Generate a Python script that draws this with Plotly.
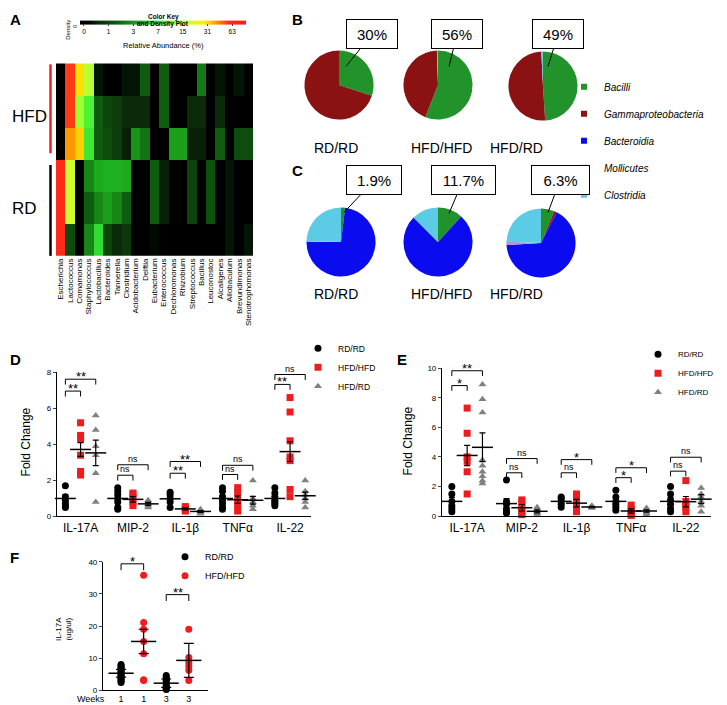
import numpy as np
import plotly.graph_objects as go

W, H = 727, 705
def px(x): return x / W
def py(y): return 1 - y / H

FONT = "Liberation Sans, Arial, sans-serif"

# ---------------- Panel A : heatmap data (relative abundance, %) ----------------
genera = ["Escherichia", "Lactococcus", "Comamonas", "Staphylococcus", "Lactobacillus",
          "Bacteroides", "Tannerella", "Clostridium", "Acidobacterium", "Delftia",
          "Eubacterium", "Enterococcus", "Dechloromonas", "Rhizobium", "Streptococcus",
          "Bacillus", "Leuconostoc", "Alcaligenes", "Allobaculum", "Brevundimonas",
          "Stenotrophomonas"]
samples = ["HFD 1", "HFD 2", "HFD 3", "RD 1", "RD 2", "RD 3"]
ab_HFD1 = [0, 55, 30, 16, 0.3, 0, 0, 0.3, 0.3, 1.5, 0, 1.5, 0, 0, 0, 2.2, 0, 0.3, 0, 0.3, 0]
ab_HFD2 = [0, 55, 14, 9, 1.5, 1.0, 0.8, 0.5, 0.5, 0.5, 0, 1.5, 0, 0, 0.5, 0.5, 0, 0.5, 0, 0, 0]
ab_HFD3 = [0, 40, 32, 8, 1.5, 1.2, 0.8, 0.4, 3.0, 2.0, 0, 0, 3.5, 3.5, 0.4, 0.4, 0, 1.5, 0, 1.2, 1.2]
ab_RD1 = [60, 18, 0, 2.5, 4.0, 4.5, 4.5, 4.0, 0, 0, 1.5, 0.4, 0, 0, 1.0, 0, 1.3, 0, 0.3, 0, 0]
ab_RD2 = [60, 18, 0, 1.5, 2.5, 3.5, 2.5, 1.5, 0, 0, 1.5, 0.4, 0, 0, 1.0, 0, 1.3, 0, 0.3, 0, 0]
ab_RD3 = [60, 1.2, 0, 2.5, 7.0, 1.0, 0.5, 0.7, 0, 0, 0.2, 0, 0, 0, 0, 0, 0, 0, 0.3, 0, 0.3]
key_ticks = [0, 1, 3, 7, 15, 31, 63]

# ---------------- Panels B, C : pies (%) ----------------
pie_groups = ["RD/RD", "HFD/HFD", "HFD/RD"]
classes = ["Bacilli", "Gammaproteobacteria", "Bacteroidia", "Mollicutes", "Clostridia"]
class_colors = ["#22922a", "#8b1212", "#0b0bf0", "#b590d8", "#5ccbe6"]
B_RD = [30, 70, 0, 0, 0]
B_HFD = [56, 43.5, 0, 0, 0.5]
B_HFDRD = [49, 50.2, 0, 0, 0.8]
C_RD = [1.9, 0, 73.1, 0.5, 24.5]
C_HFD = [11.7, 0, 75.8, 0, 12.5]
C_HFDRD = [6.3, 1.2, 66.6, 1.5, 24.4]
B_callout = ["30%", "56%", "49%"]
C_callout = ["1.9%", "11.7%", "6.3%"]

# ---------------- Panel D : fold change ----------------
cyto = ["IL-17A", "MIP-2", "IL-1β", "TNFα", "IL-22"]
D_RD = [[1.7, 1.1, 0.9, 0.7, 0.6, 0.5],
        [1.6, 1.4, 1.2, 1.0, 0.8, 0.5, 0.4],
        [1.35, 1.2, 1.0, 0.8, 0.5],
        [1.6, 1.4, 1.1, 0.9, 0.7, 0.5, 0.4],
        [1.6, 1.3, 1.1, 0.9, 0.8, 0.7, 0.6]]
D_HFD = [[5.2, 4.5, 4.3, 3.4, 2.5, 2.3],
         [1.3, 1.2, 1.0, 0.8, 0.6],
         [0.55, 0.45, 0.4, 0.3],
         [1.6, 1.3, 0.9, 0.6, 0.3],
         [6.6, 5.8, 4.2, 3.3, 3.1, 1.5, 1.1]]
D_HFDRD = [[5.6, 4.8, 3.9, 3.4, 2.4, 0.8],
           [0.9, 0.8, 0.7, 0.6, 0.5],
           [0.4, 0.3, 0.25, 0.2, 0.15],
           [2.0, 1.0, 0.8, 0.6, 0.4],
           [2.0, 1.4, 1.2, 1.0, 0.8, 0.5]]
D_mean = [[1.0, 1.0, 0.98, 1.0, 1.0], [3.72, 0.95, 0.42, 0.93, 3.6], [3.53, 0.7, 0.28, 0.9, 1.15]]
D_sem = [[0.22, 0.17, 0.14, 0.14, 0.11], [0.38, 0.15, 0.06, 0.2, 0.55], [0.71, 0.08, 0.05, 0.22, 0.2]]
D_sig = [(0, 1, 6.96, "**"), (0, 2, 7.62, "**"), (1, 1, 2.29, "ns"), (1, 2, 2.87, "ns"),
         (2, 1, 2.40, "**"), (2, 2, 3.05, "**"), (3, 1, 2.33, "ns"), (3, 2, 2.84, "ns"),
         (4, 1, 7.33, "**"), (4, 2, 7.88, "ns")]

# ---------------- Panel E : fold change ----------------
E_RD = [[2.0, 1.5, 1.0, 0.7, 0.5, 0.3],
        [2.45, 1.0, 0.8, 0.5, 0.3, 0.2],
        [1.3, 1.2, 1.0, 0.8, 0.6],
        [1.75, 1.3, 1.0, 0.8, 0.6, 0.4],
        [2.0, 1.5, 1.1, 0.8, 0.5, 0.3]]
E_HFD = [[7.3, 5.6, 4.0, 3.7, 3.0, 1.5],
         [1.1, 0.9, 0.6, 0.4, 0.2, 0.1],
         [1.5, 1.2, 0.9, 0.6, 0.3],
         [0.75, 0.5, 0.3, 0.15, 0.05],
         [2.4, 1.0, 0.8, 0.6, 0.3]]
E_HFDRD = [[8.9, 7.9, 7.0, 3.8, 3.4, 3.0, 2.7, 2.4, 2.2],
           [0.6, 0.45, 0.3, 0.2, 0.1],
           [0.7, 0.65, 0.6, 0.55],
           [0.55, 0.4, 0.3, 0.2, 0.1],
           [1.9, 1.5, 1.3, 1.0, 0.7, 0.3]]
E_mean = [[1.0, 0.85, 1.0, 1.0, 1.0], [4.1, 0.57, 0.88, 0.35, 0.98], [4.65, 0.33, 0.62, 0.35, 1.15]]
E_sem = [[0.25, 0.33, 0.12, 0.2, 0.28], [0.68, 0.22, 0.25, 0.15, 0.35], [0.97, 0.1, 0.05, 0.08, 0.3]]
E_sig = [(0, 1, 8.82, "*"), (0, 2, 9.82, "**"), (1, 1, 2.93, "ns"), (1, 2, 3.89, "ns"),
         (2, 1, 2.93, "ns"), (2, 2, 3.82, "*"), (3, 1, 2.6, "*"), (3, 2, 3.27, "*"),
         (4, 1, 3.04, "ns"), (4, 2, 3.98, "ns")]

# ---------------- Panel F : IL-17A (ug/ul) ----------------
F_weeks = ["1", "1", "3", "3"]
F_RD_w1 = [8.0, 7.6, 7.2, 6.8, 6.4, 6.0, 5.6, 5.2, 4.8, 4.4, 4.0, 3.6, 3.2, 2.8, 2.4]
F_HFD_w1 = [35.8, 21.1, 19.0, 15.2, 11.4, 3.3, 3.0]
F_RD_w3 = [4.6, 4.1, 3.6, 3.1, 2.6, 2.1, 1.6, 1.1, 0.6, 0.2]
F_HFD_w3 = [19.0, 10.2, 8.6, 7.4, 6.2, 3.0]
F_mean = [5.3, 15.2, 2.2, 9.3]
F_err = [1.2, 3.8, 1.3, 5.3]
F_sig = [(0, 1, 39.4, "*"), (2, 3, 29.8, "**")]

group_names = ["RD/RD", "HFD/HFD", "HFD/RD"]
group_colors = ["black", "#ee1c1c", "#808080"]
group_symbols = ["circle", "square", "triangle-up"]

fig = go.Figure()

# ---- A heatmap ----
Z = np.log2(np.array([ab_HFD1, ab_HFD2, ab_HFD3, ab_RD1, ab_RD2, ab_RD3]) + 1)
cscale = [[0.0, "#000000"], [0.05, "#000000"], [0.12, "#0b300b"], [0.2, "#0d4f0d"],
          [0.3, "#178a17"], [0.4, "#1fb81f"], [0.48, "#33e033"], [0.55, "#66ff33"],
          [0.65, "#ccff33"], [0.75, "#ffee00"], [0.83, "#ff8c00"], [0.9, "#ff2a1a"],
          [1.0, "#ff1a1a"]]
fig.add_trace(go.Heatmap(
    z=Z, x=genera, y=samples, colorscale=cscale, zmin=-0.16, zmax=6.56,
    xaxis="x", yaxis="y", hoverinfo="skip",
    colorbar=dict(orientation="h", x=px(155), xanchor="center", y=py(16), yanchor="middle",
                  len=166, lenmode="pixels", thickness=4, thicknessmode="pixels",
                  tickvals=list(np.log2(np.array(key_ticks) + 1)),
                  ticktext=[str(t) for t in key_ticks], ticks="outside", ticklen=2,
                  tickfont=dict(size=6.5, family=FONT, color="black"), outlinewidth=0,
                  xpad=0, ypad=0)))

# ---- B, C pies ----
B_vals = [B_RD, B_HFD, B_HFDRD]
C_vals = [C_RD, C_HFD, C_HFDRD]
B_centers = [(331, 74), (430, 74), (535, 75)]
C_centers = [(333, 233), (430, 233), (533, 234)]
R = 35
for vals_list, centers in ((B_vals, B_centers), (C_vals, C_centers)):
    for vals, (cx, cy) in zip(vals_list, centers):
        fig.add_trace(go.Pie(values=vals, labels=classes, sort=False, direction="clockwise",
                             rotation=0, textinfo="none", hoverinfo="label+percent",
                             marker=dict(colors=class_colors, line=dict(width=0)),
                             domain=dict(x=[px(cx - R), px(cx + R)], y=[py(cy + R), py(cy - R)]),
                             showlegend=False))
for i, (name, col) in enumerate(zip(classes, class_colors)):
    fig.add_trace(go.Scatter(x=[None], y=[None], mode="markers", name=name,
                             marker=dict(symbol="square", size=6, color=col),
                             xaxis="x4", yaxis="y4", legend="legend4", legendgroup=name))

# ---- D / E dot plots ----
def dot_panel(xa, ya, leg, groups, means, sems, off):
    for g, (vals, name, col, sym) in enumerate(zip(groups, group_names, group_colors, group_symbols)):
        xs, ys = [], []
        for i, v in enumerate(vals):
            xs += [i + (g - 1) * off] * len(v)
            ys += v
        fig.add_trace(go.Scatter(x=xs, y=ys, mode="markers", name=name, legend=leg,
                                 marker=dict(symbol=sym, size=7, color=col, line=dict(width=0)),
                                 xaxis=xa, yaxis=ya, cliponaxis=False))
    for g in range(3):
        fig.add_trace(go.Scatter(
            x=[i + (g - 1) * off for i in range(len(means[g]))], y=means[g], mode="markers",
            marker=dict(symbol="line-ew", size=15, line=dict(width=1.5, color="black")),
            error_y=dict(type="data", array=sems[g], color="black", thickness=1.2, width=3),
            xaxis=xa, yaxis=ya, showlegend=False, hoverinfo="skip", cliponaxis=False))

dot_panel("x2", "y2", "legend", [D_RD, D_HFD, D_HFDRD], D_mean, D_sem, 0.29)
dot_panel("x3", "y3", "legend2", [E_RD, E_HFD, E_HFDRD], E_mean, E_sem, 0.28)

# ---- F ----
F_pts = [F_RD_w1, F_HFD_w1, F_RD_w3, F_HFD_w3]
for gi, name, col in ((0, "RD/RD", "black"), (1, "HFD/HFD", "#ee1c1c")):
    xs, ys = [], []
    for k in (gi, gi + 2):
        xs += [k] * len(F_pts[k]); ys += F_pts[k]
    fig.add_trace(go.Scatter(x=xs, y=ys, mode="markers", name=name, legend="legend3",
                             marker=dict(symbol="circle", size=7, color=col),
                             xaxis="x4", yaxis="y4", cliponaxis=False))
fig.add_trace(go.Scatter(x=[0, 1, 2, 3], y=F_mean, mode="markers",
                         marker=dict(symbol="line-ew", size=18, line=dict(width=1.5, color="black")),
                         error_y=dict(type="data", array=F_err, color="black", thickness=1.2, width=5),
                         xaxis="x4", yaxis="y4", showlegend=False, hoverinfo="skip", cliponaxis=False))

# ---- significance brackets ----
shapes, annots = [], []
def brackets(sig, xr, yr, off, drop, fs_star, fs_ns, pair=False):
    for item in sig:
        if pair:
            x0, x1, yv, txt = item
        else:
            c, g, yv, txt = item
            x0, x1 = c - off, c + (g - 1) * off
        shapes.append(dict(type="path", xref=xr, yref=yr,
                           path=f"M {x0} {yv - drop} L {x0} {yv} L {x1} {yv} L {x1} {yv - drop}",
                           line=dict(color="black", width=1)))
        star = "*" in txt
        annots.append(dict(x=(x0 + x1) / 2, y=yv, xref=xr, yref=yr, text=txt, showarrow=False,
                           yanchor="bottom", yshift=(-6 if star else 0), borderpad=0,
                           font=dict(size=fs_star if star else fs_ns, family=FONT, color="black")))
brackets(D_sig, "x2", "y2", 0.29, 0.3, 13, 9)
brackets(E_sig, "x3", "y3", 0.28, 0.35, 13, 9)
brackets(F_sig, "x4", "y4", 0, 2.0, 13, 9, pair=True)

# ---- pie callouts ----
B_heads = [(338, 55), (441, 55), (540, 55)]
B_boxes = [(364, 23, 48), (449, 23, 48), (550, 23, 48)]
C_heads = [(336, 203), (441, 204), (540, 203)]
C_boxes = [(366, 171, 52), (455, 171, 61), (552, 171, 55)]
for labels, heads, boxes in ((B_callout, B_heads, B_boxes), (C_callout, C_heads, C_boxes)):
    for t, (hx, hy), (bx, by, bw) in zip(labels, heads, boxes):
        annots.append(dict(x=px(hx), y=py(hy), xref="paper", yref="paper", text=t,
                           showarrow=True, arrowhead=0, arrowwidth=1, arrowcolor="black",
                           ax=bx - hx, ay=by - hy, width=bw, height=26,
                           bordercolor="black", borderwidth=1, bgcolor="white",
                           font=dict(size=15, family=FONT, color="black")))
for row_y in (128, 286):
    for name, cx in zip(pie_groups, (328, 433, 537)):
        annots.append(dict(x=px(cx), y=py(row_y), xref="paper", yref="paper", text=name,
                           showarrow=False, font=dict(size=14, family=FONT, color="black")))

# ---- text labels ----
def txt(x, y, t, size, bold=False, angle=0, xanchor="center"):
    annots.append(dict(x=px(x), y=py(y), xref="paper", yref="paper",
                       text=f"<b>{t}</b>" if bold else t, showarrow=False, textangle=angle,
                       xanchor=xanchor, yanchor="middle",
                       font=dict(size=size, family=FONT, color="black")))
for L, x, y in (("A", 0, 8), ("B", 282, 8), ("C", 282, 161), ("D", 0, 352), ("E", 387, 352), ("F", 0, 553)):
    txt(x, y, L, 15, bold=True, xanchor="left")
txt(155, 5, "Color Key", 6.5, bold=True)
txt(155, 12, "and Density Plot", 6.5, bold=True)
txt(155, 34, "Relative Abundance (%)", 7.5)
txt(60, 18, "Density", 6, angle=-90)
txt(67, 15, "0", 5.5, angle=-90)
txt(2, 106, "HFD", 17, xanchor="left")
txt(2, 199, "RD", 17, xanchor="left")
txt(18, 436, "Fold Change", 12, angle=-90)
txt(400, 435, "Fold Change", 12, angle=-90)
txt(55, 625, "IL-17A<br>(ug/ul)", 8, angle=-90)
txt(83, 696, "Weeks", 9)
shapes.append(dict(type="line", xref="paper", yref="paper", x0=px(42.5), x1=px(42.5),
                   y0=py(53), y1=py(143), line=dict(color="#ee2222", width=2.5)))
shapes.append(dict(type="line", xref="paper", yref="paper", x0=px(42.5), x1=px(42.5),
                   y0=py(155), y1=py(247), line=dict(color="black", width=2.5)))

axis_common = dict(showgrid=False, zeroline=False, showline=True, linecolor="black", linewidth=1.2)
fig.update_layout(
    width=W, height=H, margin=dict(l=0, r=0, t=0, b=0),
    paper_bgcolor="white", plot_bgcolor="white",
    font=dict(family=FONT, color="black"),
    xaxis=dict(domain=[px(48), px(245)], anchor="y", tickangle=-90, ticks="",
               tickmode="array", tickvals=genera, ticktext=genera,
               tickfont=dict(size=8, color="black"), showgrid=False, zeroline=False),
    yaxis=dict(domain=[py(247), py(52)], anchor="x", autorange="reversed",
               showticklabels=False, ticks="", showgrid=False, zeroline=False),
    xaxis2=dict(domain=[px(49), px(303)], anchor="y2", range=[-0.45, 4.4],
                tickvals=list(range(5)), ticktext=cyto, ticks="", tickfont=dict(size=12), **axis_common),
    yaxis2=dict(domain=[py(511), py(365)], anchor="x2", range=[0, 8], tickvals=[0, 2, 4, 6, 8],
                ticks="outside", ticklen=3, tickfont=dict(size=8), **axis_common),
    xaxis3=dict(domain=[px(434), px(703)], anchor="y3", range=[-0.46, 4.46],
                tickvals=list(range(5)), ticktext=cyto, ticks="", tickfont=dict(size=12), **axis_common),
    yaxis3=dict(domain=[py(510.7), py(360.7)], anchor="x3", range=[0, 10],
                tickvals=[0, 2, 4, 6, 8, 10], ticks="outside", ticklen=3,
                tickfont=dict(size=8), **axis_common),
    xaxis4=dict(domain=[px(95), px(200)], anchor="y4", range=[-0.8, 3.85],
                tickvals=[0, 1, 2, 3], ticktext=F_weeks, ticks="",
                tickfont=dict(size=9), **axis_common),
    yaxis4=dict(domain=[py(687), py(557)], anchor="x4", range=[0, 40],
                tickvals=[0, 10, 20, 30, 40], ticks="outside", ticklen=3,
                tickfont=dict(size=8), **axis_common),
    legend=dict(x=px(290), y=py(326), xanchor="left", yanchor="top", bgcolor="rgba(0,0,0,0)",
                font=dict(size=8.5, family=FONT)),
    legend2=dict(x=px(630), y=py(332), xanchor="left", yanchor="top", bgcolor="rgba(0,0,0,0)",
                 font=dict(size=8, family=FONT)),
    legend3=dict(x=px(157), y=py(537), xanchor="left", yanchor="top", bgcolor="rgba(0,0,0,0)",
                 font=dict(size=9, family=FONT)),
    legend4=dict(x=px(556), y=py(61), xanchor="left", yanchor="top", bgcolor="rgba(0,0,0,0)",
                 tracegroupgap=8, font=dict(size=10, family=FONT, style="italic")),
    shapes=shapes, annotations=annots,
)
fig.write_html("out.html")
